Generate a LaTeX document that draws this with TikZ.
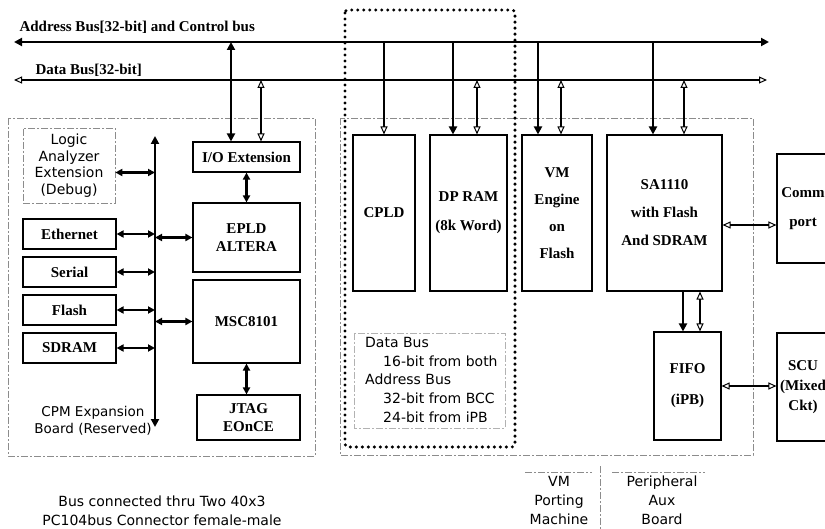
\documentclass[tikz,border=0pt]{standalone}
\usepackage{fontspec}
\setmainfont{Liberation Serif}
\newfontfamily\gul{DejaVu Sans}
\usetikzlibrary{arrows.meta}
\newcommand\bx[1]{\bfseries\fontsize{15}{#1}\selectfont}
\newcommand\sx[1]{\gul\fontsize{14}{#1}\selectfont}

\tikzset{
  blk/.style={draw,line width=1.1pt,inner sep=0pt,align=center,font=\bx{18}},
  frame/.style={draw=black!45,line width=0.7pt,dash pattern=on 7pt off 2pt on 2pt off 2pt},
  note/.style={align=center,inner sep=0pt,font=\sx{17}},
  adr/.style={line width=2.8pt,-{Triangle[length=8pt,width=8pt]}},
  adro/.style={line width=2.4pt,-{Triangle[open,length=8pt,width=7pt,line width=1pt]}},
  adr2/.style={line width=2.8pt,{Triangle[length=8pt,width=8pt]}-{Triangle[length=8pt,width=8pt]}},
  lnk/.style={line width=2.4pt,{Triangle[length=7pt,width=7pt]}-{Triangle[length=7pt,width=7pt]}},
  dat/.style={line width=2pt,{Triangle[open,length=8pt,width=7pt,line width=1pt]}-{Triangle[open,length=8pt,width=7pt,line width=1pt]}},
}

\begin{document}
\begin{tikzpicture}[x=1pt,y=-1pt]
\useasboundingbox (0,0) rectangle (825,529);
\clip (0,0) rectangle (825,529);

% system buses
\coordinate (abL) at (14,42); \coordinate (abR) at (769,42);
\coordinate (dbL) at (14,80); \coordinate (dbR) at (767,80);
\draw[adr2] (abL) -- (abR);
\draw[dat] (dbL) -- (dbR);
\node[anchor=west,font=\bx{18}] (ablbl) at (16,27) {Address Bus[32-bit] and Control bus};
\node[anchor=west,font=\bx{18}] (dblbl) at (32,70) {Data Bus[32-bit]};

% board outlines
\draw[frame] (8,118) rectangle (315,456);
\draw[frame] (340,118) rectangle (753,455);
\draw[line width=3.4pt,line cap=round,dash pattern=on 0pt off 6pt,rounded corners=3pt] (345,10) rectangle (515,447);

% CPM expansion board
\node[frame,note,minimum width=92pt,minimum height=75pt,font=\sx{16.5}] (la) at (69,165.5) {Logic\\Analyzer\\Extension\\(Debug)};
\foreach \n/\t [count=\i from 0] in {eth/Ethernet,ser/Serial,fla/Flash,sdr/SDRAM}
  \node[blk,minimum width=93pt,minimum height=30pt] (\n) at (69.5,234+\i*38) {\t};
\coordinate (vt) at (155,136); \coordinate (vb) at (155,427);
\draw[adr2] (vt) -- (vb);
\coordinate (laport) at ([yshift=-7pt]la.east);
\draw[lnk] (laport) -- (laport -| vt);
\foreach \n in {eth,ser,fla,sdr}
  \draw[lnk] (\n.east) -- (\n.east -| vt);

\node[blk,minimum width=107pt,minimum height=30pt] (io) at (246.5,157) {I/O Extension};
\node[blk,minimum width=107pt,minimum height=69pt] (epld) at (246.5,237.5) {EPLD\\ALTERA};
\node[blk,minimum width=107pt,minimum height=83pt] (msc) at (246.5,321.5) {MSC8101};
\node[blk,minimum width=103pt,minimum height=45pt] (jtag) at (248.5,417.5) {JTAG\\EOnCE};
\draw[lnk] (epld.west -| vt) -- (epld.west);
\draw[lnk] (msc.west -| vt) -- (msc.west);
\draw[lnk] (io) -- (epld);
\draw[lnk] (msc.south) -- (msc.south |- jtag.north);
\draw[adr2] ([xshift=-15.5pt]io.north |- abL) -- ([xshift=-15.5pt]io.north);
\draw[dat] ([xshift=14.5pt]io.north |- dbL) -- ([xshift=14.5pt]io.north);

\node[note,font=\sx{17}\fontsize{13.5}{17}\selectfont] (cpmlbl) at (93,421) {CPM Expansion\\Board (Reserved)};
\node[note,font=\sx{19}] (pclbl) at (162,511) {Bus connected thru Two 40x3\\PC104bus Connector female-male};

% VM porting machine and peripheral board
\node[blk,minimum width=62pt,minimum height=156pt] (cpld) at (384,213) {CPLD};
\node[blk,minimum width=77pt,minimum height=156pt,font=\bx{29}] (dpram) at (468.5,213) {DP RAM\\(8k Word)};
\node[blk,minimum width=70pt,minimum height=156pt,font=\bx{27}] (vme) at (557,213) {VM\\Engine\\on\\Flash};
\node[blk,minimum width=115pt,minimum height=156pt,font=\bx{28}] (sa) at (664.5,213) {SA1110\\with Flash\\And SDRAM};
\node[blk,minimum width=52pt,minimum height=109pt,font=\bx{29}] (comm) at (803,208.5) {Comm\\port};
\node[blk,minimum width=67pt,minimum height=108pt,font=\bx{31}] (fifo) at (687.5,386) {FIFO\\(iPB)};
\node[blk,minimum width=52pt,minimum height=108pt,font=\bx{20}] (scu) at (803,387) {SCU\\(Mixed\\Ckt)};

\draw[adro] (cpld.north |- abL) -- (cpld.north);
\foreach \n/\xa/\xd in {dpram/-15.5/8.5,vme/-19/4,sa/-11.5/19.5}{
  \draw[adr] ([xshift=\xa pt]\n.north |- abL) -- ([xshift=\xa pt]\n.north);
  \draw[dat] ([xshift=\xd pt]\n.north |- dbL) -- ([xshift=\xd pt]\n.north);
}
\draw[adr] ([xshift=-4.5pt]fifo.north |- sa.south) -- ([xshift=-4.5pt]fifo.north);
\draw[dat] ([xshift=12.5pt]fifo.north |- sa.south) -- ([xshift=12.5pt]fifo.north);
\draw[dat] ([yshift=-12pt]sa.east) -- ([yshift=-12pt]sa.east -| comm.west);
\draw[dat] (fifo.east) -- (fifo.east -| scu.west);

\draw[frame,draw=black!30] (354,333) rectangle (505,428);
\node[anchor=north west,align=left,inner sep=0pt,font=\sx{18.7}] (bnote) at (365,337)
  {Data Bus\\\hspace*{18pt}16-bit from both\\Address Bus\\\hspace*{18pt}32-bit from BCC\\\hspace*{18pt}24-bit from iPB};

\draw[frame] (600,466) -- (600,529);
\draw[frame] (525,472) -- (592,472);
\draw[frame] (612,472) -- (705,472);
\node[note,font=\sx{19}] (vmp) at (559,500.5) {VM\\Porting\\Machine};
\node[note,font=\sx{19}] (pab) at (662,500.5) {Peripheral\\Aux\\Board};
\end{tikzpicture}
\end{document}
